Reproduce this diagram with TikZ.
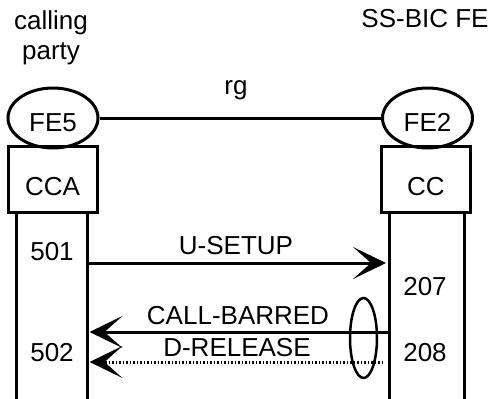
\documentclass[tikz,border=0pt]{standalone}
\usepackage{fontspec}
\setmainfont{Liberation Sans}
\usetikzlibrary{shapes.geometric,arrows.meta}
\begin{document}
\begin{tikzpicture}[x=1pt,y=-1pt,line width=3pt,
        every node/.style={font=\fontsize{26}{30}\selectfont,inner sep=0pt},
        fe/.style={draw,ellipse,minimum width=90pt,minimum height=60pt,text height=27pt,text depth=0pt},
        fu/.style={draw,minimum width=89pt,minimum height=66pt,text height=32pt,text depth=0pt},
        msg/.style={-{Stealth[length=33pt,width=32pt,inset=18pt]}}]
        \useasboundingbox (0,0) rectangle (491,399);
        \node (caller) at (51,23) {calling};
        \node (party) at (51,54) {party};
        \node (ssbic) at (425,19) {SS-BIC FE};
        \node (rg) at (236,90) {rg};
        \node [fu] (cca) at (52.5,179) {CCA};
        \node [fu] (cc) at (426,179) {CC};
        \node [fe] (fe5) at (53,118) {FE5};
        \node [fe] (fe2) at (427.5,118) {FE2};
        \draw (fe5) -- (fe2);
        % lifelines
        \draw ([xshift=10pt]cca.south west) -- ++(0,187);
        \draw ([xshift=-11pt]cca.south east) coordinate (ccaline) -- ++(0,187);
        \draw ([xshift=9pt]cc.south west) coordinate (ccline) -- ++(0,187);
        \draw ([xshift=-8pt]cc.south east) -- ++(0,187);
        \node (n501) at (52,252) {501};
        \node (n502) at (52,353) {502};
        \node (n207) at (425,287) {207};
        \node (n208) at (425,353) {208};
        \coordinate (setupA) at (ccaline |- 0,263);
        \coordinate (setupB) at ([xshift=-3pt]ccline |- 0,263);
        \coordinate (barredA) at (ccline |- 0,332);
        \coordinate (barredB) at ([xshift=2pt]ccaline |- 0,332);
        \coordinate (releaseA) at ([xshift=-6pt]ccline |- 0,362);
        \coordinate (releaseB) at ([xshift=2pt]ccaline |- 0,362);
        \draw [msg] (setupA) -- (setupB);
        \draw [msg] (barredA) -- (barredB);
        \draw [msg,dash pattern=on 1.5pt off 2pt] (releaseA) -- (releaseB);
        \node (setup) at (236,246) {U-SETUP};
        \node (barred) at (238,316) {CALL-BARRED};
        \node (release) at (237,348) {D-RELEASE};
        \node [draw,ellipse,line width=2.5pt,minimum width=27pt,minimum height=80pt] (grp) at (363.5,338) {};
\end{tikzpicture}
\end{document}
